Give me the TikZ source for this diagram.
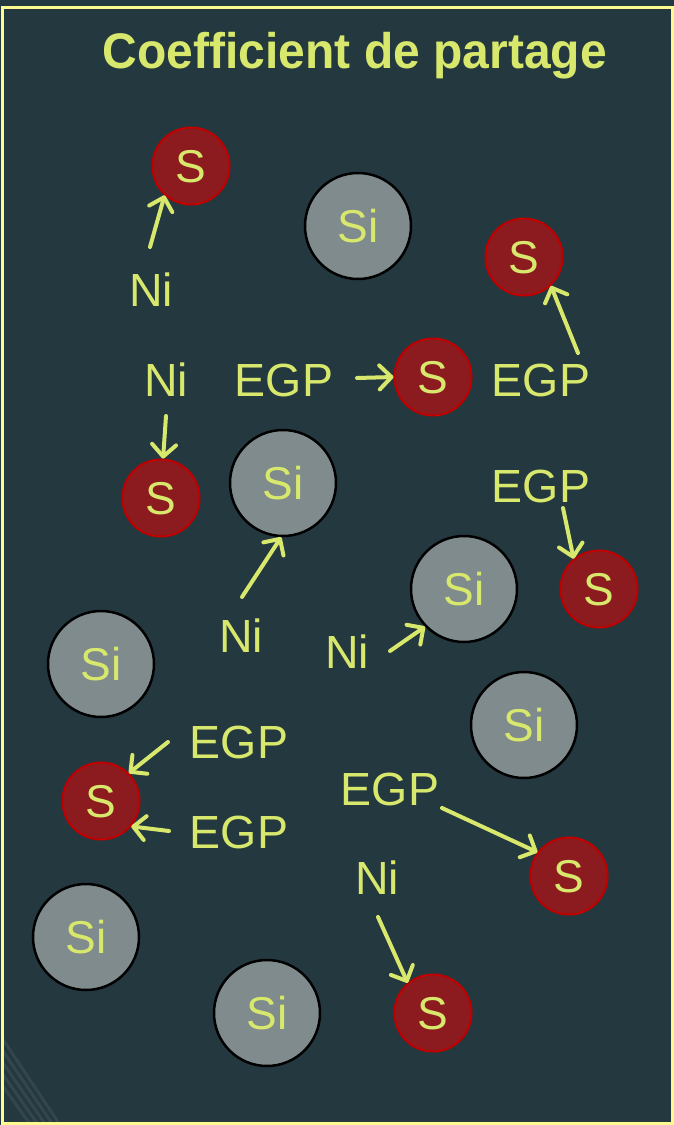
\documentclass[tikz,border=0pt]{standalone}
\usepackage{fontspec}
\setmainfont{Liberation Sans}
\usetikzlibrary{arrows.meta}
\definecolor{bgcol}{HTML}{243840}
\definecolor{framecol}{HTML}{FFFA90}
\definecolor{txtcol}{HTML}{D8E86C}
\definecolor{sfill}{HTML}{8C1B20}
\definecolor{sline}{HTML}{C00000}
\definecolor{sifill}{HTML}{7F8B8C}
\tikzset{
  lbl/.style={inner sep=0pt, text=txtcol, font=\fontsize{46.5}{46.5}\selectfont,
              text height=33pt, text depth=0pt},
  satom/.style={circle, draw=sline, line width=2pt, fill=sfill, minimum size=77pt,
                inner sep=0pt, text=txtcol, font=\fontsize{46}{46}\selectfont,
                text height=33pt, text depth=0pt},
  siatom/.style={circle, draw=black, line width=2.5pt, fill=sifill, minimum size=106pt,
                 inner sep=0pt, text=txtcol, font=\fontsize{46}{46}\selectfont,
                 text height=33pt, text depth=0pt},
  arr/.style={draw=txtcol, line width=4pt, line cap=round,
              -{Straight Barb[length=12pt,width=24pt,line width=4pt,round]}},
}
\begin{document}
\begin{tikzpicture}[x=1pt,y=-1pt]
  % background and frame
  \fill[bgcol] (0,0) rectangle (674,1125);
  \useasboundingbox (0,0) rectangle (674,1125);
  \begin{scope}
    \clip (3,8) rectangle (671,1122);
    \foreach \d in {0,12,24,36,48} {
      \draw[white, opacity=0.07, line width=3pt] (-10,1020+\d) -- (60+\d*0.1,1125+\d);
    }
  \end{scope}
  \draw[framecol, line width=3pt] (2.5,7) rectangle (672,1123);

  % title
  \node[anchor=base, text=txtcol, xscale=0.96,
        font=\bfseries\fontsize{50}{50}\selectfont] (title) at (355,68) {Coefficient de partage};

  % sulfur atoms
  \node[satom] (s1) at (191,166) {S};
  \node[satom] (s2) at (524,257) {S};
  \node[satom] (s3) at (433,377) {S};
  \node[satom] (s4) at (161,498) {S};
  \node[satom] (s5) at (599,589) {S};
  \node[satom] (s6) at (101,801) {S};
  \node[satom] (s7) at (569,876) {S};
  \node[satom] (s8) at (433,1013) {S};

  % silicon atoms
  \node[siatom] (si1) at (358,226) {Si};
  \node[siatom] (si2) at (283,483) {Si};
  \node[siatom] (si3) at (464,589) {Si};
  \node[siatom] (si4) at (101,664) {Si};
  \node[siatom] (si5) at (524,725) {Si};
  \node[siatom] (si6) at (86,937) {Si};
  \node[siatom] (si7) at (267,1013) {Si};

  % labels
  \node[lbl] (ni1) at (151,290) {Ni};
  \node[lbl] (ni2) at (166,380) {Ni};
  \node[lbl] (egp1) at (284,380) {EGP};
  \node[lbl] (egp2) at (541,380) {EGP};
  \node[lbl] (egp3) at (541,486) {EGP};
  \node[lbl] (ni3) at (241,636) {Ni};
  \node[lbl] (ni4) at (347,652) {Ni};
  \node[lbl] (egp4) at (239,742) {EGP};
  \node[lbl] (egp5) at (239,832) {EGP};
  \node[lbl] (egp6) at (390,789) {EGP};
  \node[lbl] (ni5) at (377,878) {Ni};

  % arrow tails
  \coordinate (t1) at (150,247);
  \coordinate (t2) at (166,416);
  \coordinate (t3) at (357,378);
  \coordinate (t4) at (578,353);
  \coordinate (t5) at (563,508);
  \coordinate (t6) at (242,597);
  \coordinate (t7) at (390,651);
  \coordinate (t8) at (168,742);
  \coordinate (t9) at (169,831);
  \coordinate (t10) at (442,808);
  \coordinate (t11) at (378,917);

  % arrows
  \draw[arr] (t1) -- (s1.228);
  \draw[arr] (t2) -- (s4.87);
  \draw[arr] (t3) -- (s3.180);
  \draw[arr] (t4) -- (s2.313);
  \draw[arr] (t5) -- (s5.130);
  \draw[arr] (t6) -- (si2.268);
  \draw[arr] (t7) -- (si3.224);
  \draw[arr] (t8) -- (s6.45);
  \draw[arr] (t9) -- (s6.320);
  \draw[arr] (t10) -- (s7.143);
  \draw[arr] (t11) -- (s8.130);
\end{tikzpicture}
\end{document}
